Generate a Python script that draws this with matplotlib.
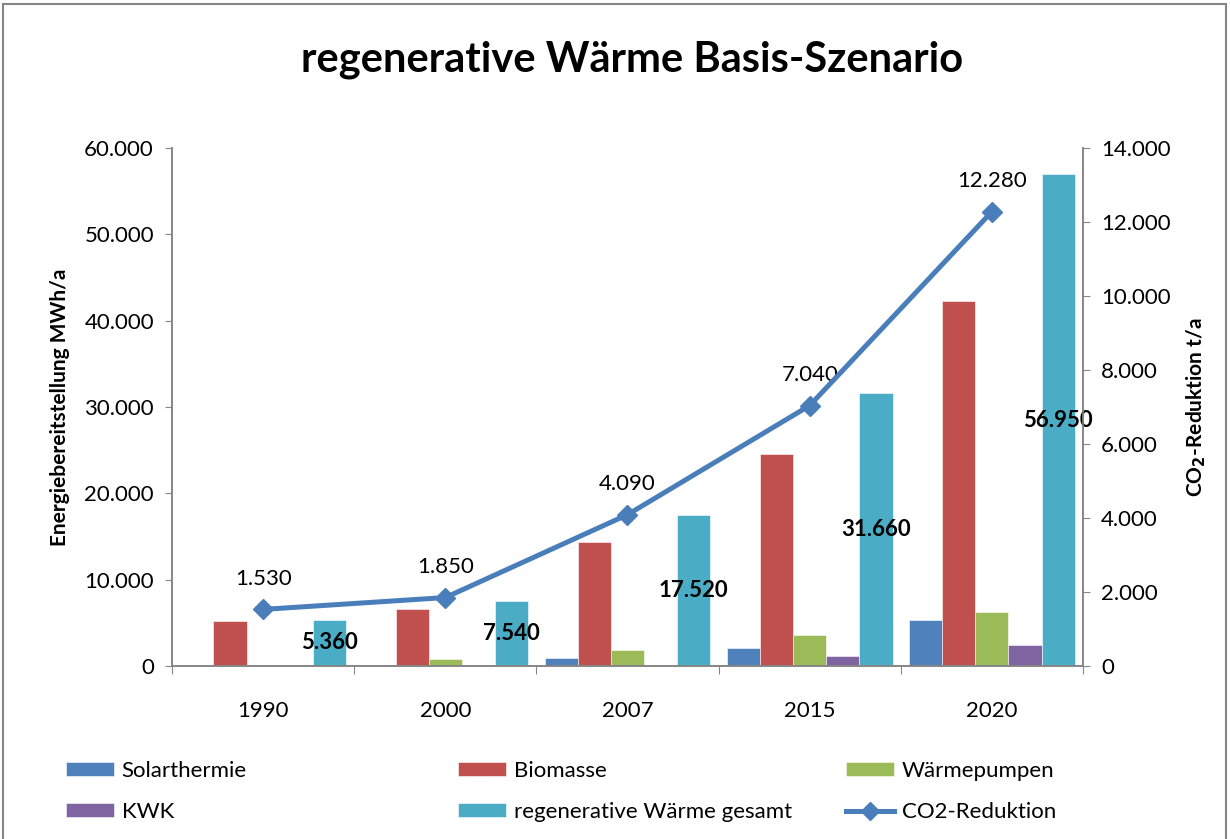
import numpy as np
import matplotlib
matplotlib.use("Agg")
import matplotlib.pyplot as plt
from matplotlib.lines import Line2D
from matplotlib.patches import Rectangle
from matplotlib.ticker import FuncFormatter, FixedLocator, NullFormatter

plt.rcParams["font.family"] = ["Lato", "DejaVu Sans"]

# data (MWh/a and t/a)
years = ["1990", "2000", "2007", "2015", "2020"]
solarthermie = [0, 60, 900, 2050, 5350]
biomasse = [5250, 6650, 14400, 24500, 42300]
waermepumpen = [110, 760, 1820, 3600, 6250]
kwk = [0, 0, 0, 1150, 2480]
gesamt = [5360, 7540, 17520, 31660, 56950]
co2_reduktion = [1530, 1850, 4090, 7040, 12280]

series_names = ["Solarthermie", "Biomasse", "Wärmepumpen", "KWK",
                "regenerative Wärme gesamt"]
series_colors = ["#4F81BD", "#C0504D", "#9BBB59", "#8064A2", "#4BACC6"]
line_color = "#4A7EBB"
axis_gray = "#868686"
fs = 16


def de_thousands(v, pos=None):
    return f"{int(round(v)):,}".replace(",", ".")


fig = plt.figure(figsize=(12.3, 8.39), dpi=100)
ax = fig.add_axes([172 / 1230, 1 - 666 / 839, (1083 - 172) / 1230, (666 - 148) / 839])
ax2 = ax.twinx()

x = np.arange(len(years))
width = 0.182
all_series = [solarthermie, biomasse, waermepumpen, kwk, gesamt]
bar_handles = []
for i, (vals, name, col) in enumerate(zip(all_series, series_names, series_colors)):
    h = ax.bar(x + (i - 2) * width, vals, width=width, color=col,
               edgecolor="white", linewidth=0.4, label=name, zorder=2)
    bar_handles.append(h)

# bold total labels in the middle of the total bars
for xi, v in zip(x, gesamt):
    ax.text(xi + 2 * width, v / 2, de_thousands(v), ha="center", va="center",
            fontsize=fs, fontweight="bold", color="black", zorder=5)

ax.set_xlim(-0.5, len(years) - 0.5)
ax.set_ylim(0, 60000)
ax.yaxis.set_major_locator(FixedLocator(np.arange(0, 60001, 10000)))
ax.yaxis.set_major_formatter(FuncFormatter(de_thousands))
ax.set_ylabel("Energiebereitstellung MWh/a", fontsize=15, fontweight="bold", labelpad=10)

# category ticks at the boundaries, labels in the centre
ax.xaxis.set_major_locator(FixedLocator(np.arange(-0.5, len(years), 1.0)))
ax.xaxis.set_major_formatter(NullFormatter())
ax.xaxis.set_minor_locator(FixedLocator(x))
ax.set_xticklabels(years, minor=True)
ax.tick_params(axis="x", which="minor", length=0, labelsize=fs, pad=25)
ax.tick_params(axis="x", which="major", length=6, color=axis_gray, direction="out")
ax.tick_params(axis="y", labelsize=fs, length=5, color=axis_gray, pad=8)

ax2.plot(x, co2_reduktion, color=line_color, linewidth=3.6, marker="D",
         markersize=10, zorder=6)
for xi, v in zip(x, co2_reduktion):
    ax2.annotate(de_thousands(v), (xi, v), xytext=(0, 15), textcoords="offset points",
                 ha="center", va="bottom", fontsize=fs, color="black")
ax2.set_ylim(0, 14000)
ax2.yaxis.set_major_locator(FixedLocator(np.arange(0, 14001, 2000)))
ax2.yaxis.set_major_formatter(FuncFormatter(de_thousands))
ax2.tick_params(axis="y", labelsize=fs, length=5, color=axis_gray, pad=8)
ax2.set_ylabel("CO$_\\mathbf{2}$-Reduktion t/a", fontsize=15, fontweight="bold", labelpad=10)

for a in (ax, ax2):
    a.spines["top"].set_visible(False)
    for s in ("left", "right", "bottom"):
        a.spines[s].set_color(axis_gray)
        a.spines[s].set_linewidth(1.2)
ax2.patch.set_visible(False)

fig.text(632 / 1230, 1 - 60 / 839, "regenerative Wärme Basis-Szenario",
         ha="center", va="center", fontsize=30, fontweight="bold")

# legend: three columns placed like the original
line_handle = Line2D([], [], color=line_color, linewidth=3.6, marker="D", markersize=9)
columns = [
    ([bar_handles[0], bar_handles[3]], [series_names[0], series_names[3]], 66),
    ([bar_handles[1], bar_handles[4]], [series_names[1], series_names[4]], 458),
    ([bar_handles[2], line_handle], [series_names[2], "CO2-Reduktion"], 846),
]
for handles, labels, px in columns:
    fig.legend(handles, labels, loc="upper left",
               bbox_to_anchor=(px / 1230, 1 - 761 / 839), frameon=False,
               fontsize=fs, handlelength=2.15, handleheight=0.62,
               handletextpad=0.35, labelspacing=0.95, borderaxespad=0,
               borderpad=0)

fig.patches.append(Rectangle((3 / 1230, -0.01), 1223 / 1230, 1 - 4 / 839 + 0.01,
                             transform=fig.transFigure, fill=False,
                             edgecolor=axis_gray, linewidth=1.5))

fig.savefig("out.png", dpi=100)
